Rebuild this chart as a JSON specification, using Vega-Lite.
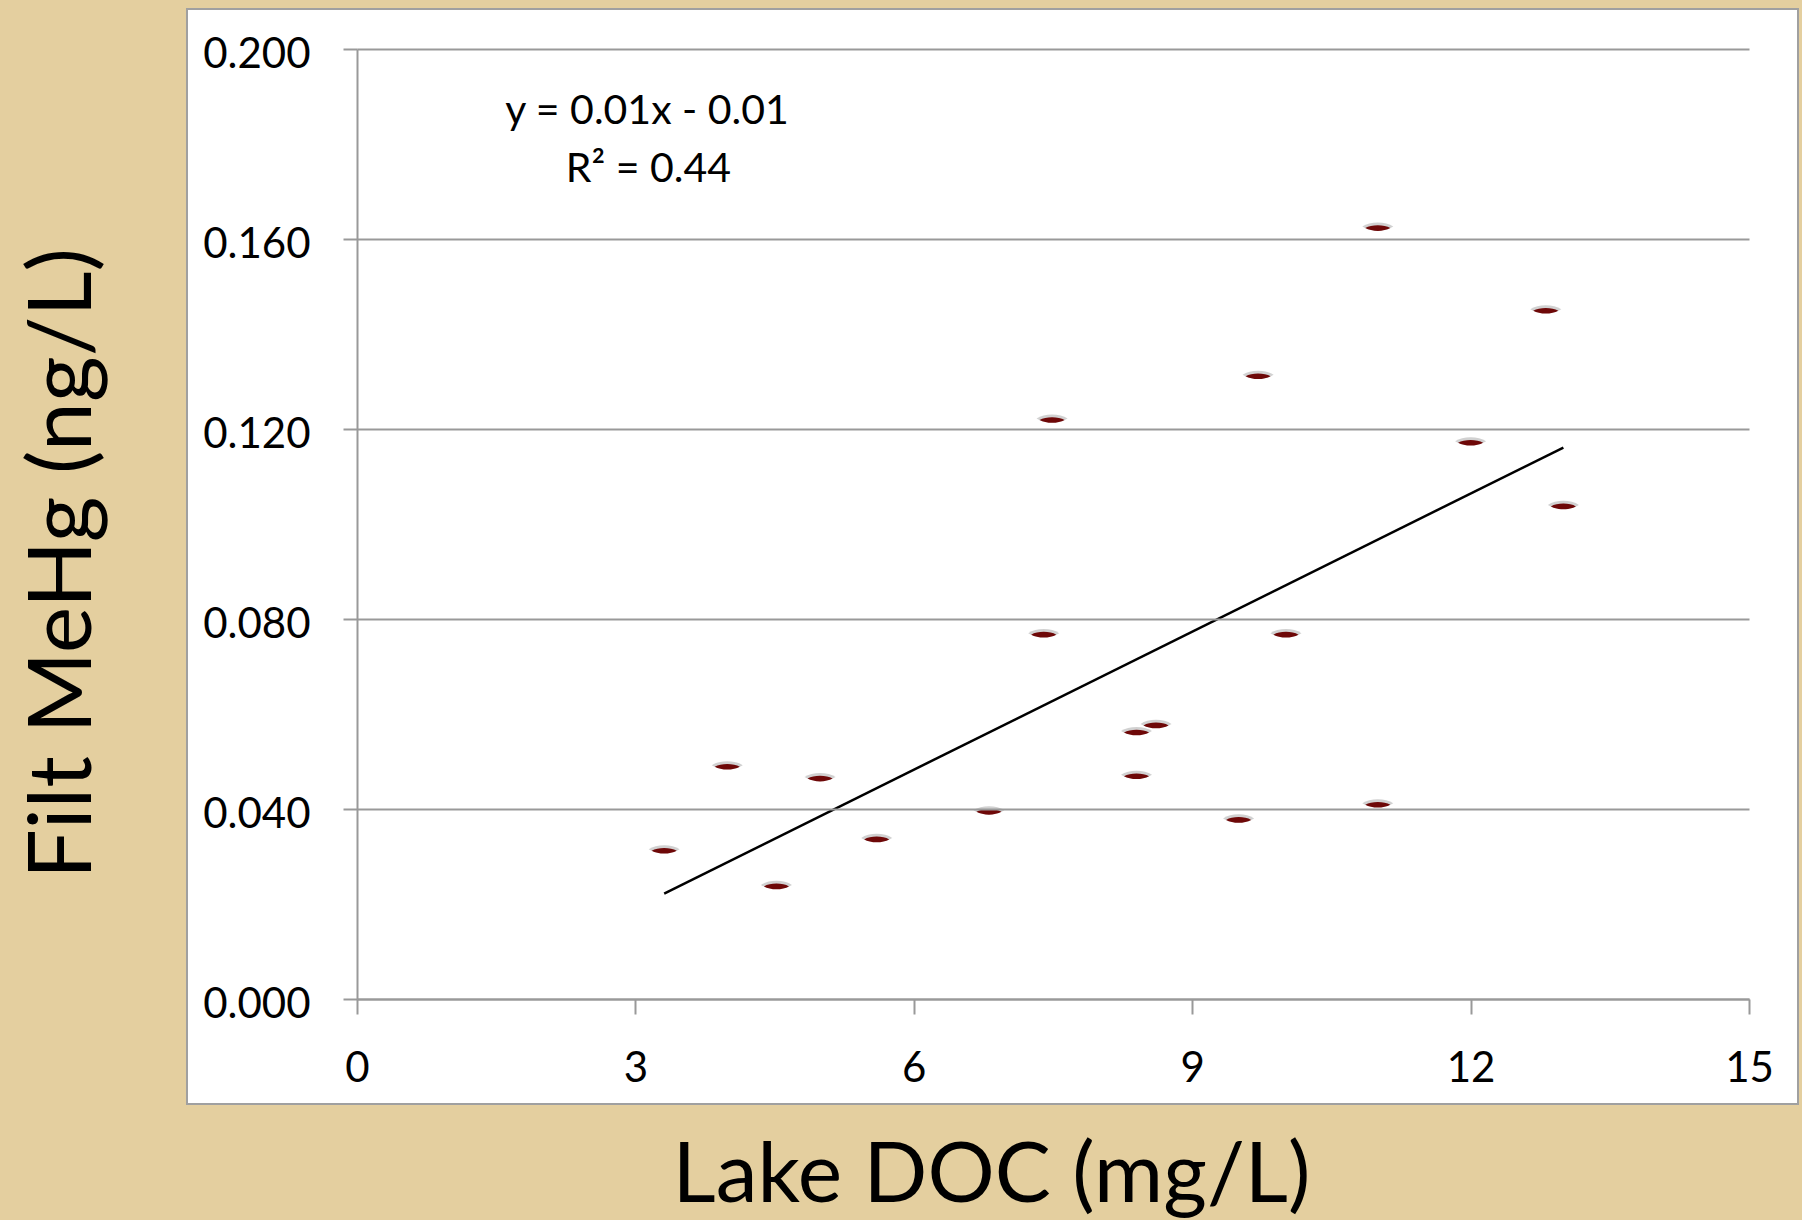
{
  "$schema": "https://vega.github.io/schema/vega-lite/v6.json",
  "width": 1392,
  "height": 950,
  "autosize": {"type": "none"},
  "padding": {"left": 357, "top": 49, "right": 53, "bottom": 221},
  "background": "#e4cf9f",
  "config": {
    "view": {"stroke": null},
    "font": "Lato",
    "axis": {"labelFont": "Lato", "titleFont": "Lato", "labelColor": "#000000", "titleColor": "#000000", "titleFontWeight": "normal"}
  },
  "datasets": {
    "points": [
      {"doc": 3.31, "mehg": 0.0312},
      {"doc": 3.99, "mehg": 0.0489},
      {"doc": 4.52, "mehg": 0.0237},
      {"doc": 4.99, "mehg": 0.0464},
      {"doc": 5.60, "mehg": 0.0336},
      {"doc": 6.81, "mehg": 0.0394},
      {"doc": 7.40, "mehg": 0.0767},
      {"doc": 7.49, "mehg": 0.1219},
      {"doc": 8.40, "mehg": 0.0561},
      {"doc": 8.61, "mehg": 0.0576},
      {"doc": 8.40, "mehg": 0.0469},
      {"doc": 9.50, "mehg": 0.0377},
      {"doc": 9.71, "mehg": 0.1311},
      {"doc": 10.01, "mehg": 0.0767},
      {"doc": 11.0, "mehg": 0.1623},
      {"doc": 11.0, "mehg": 0.0409},
      {"doc": 12.0, "mehg": 0.1171},
      {"doc": 12.81, "mehg": 0.1449},
      {"doc": 13.0, "mehg": 0.1037}
    ],
    "trend": [
      {"doc": 3.31, "mehg": 0.0222},
      {"doc": 13.0, "mehg": 0.1161}
    ]
  },
  "layer": [
    {
      "data": {"values": [{}]},
      "mark": {"type": "rect", "fill": "#ffffff", "stroke": "#a0a0a0", "strokeWidth": 2},
      "encoding": {
        "x": {"datum": -1.832, "type": "quantitative", "scale": {"domain": [0, 15], "nice": false, "zero": false},
          "axis": {
            "zindex": 1,
            "values": [0, 3, 6, 9, 12, 15],
            "format": "d",
            "labelFlush": false,
            "labelOverlap": false,
            "grid": false,
            "domain": true, "domainColor": "#999999", "domainWidth": 2,
            "ticks": true, "tickSize": 15, "tickColor": "#999999", "tickWidth": 2,
            "labelFontSize": 42, "labelPadding": 34,
            "title": "Lake DOC (mg/L)", "titleFontSize": 84,
            "titleX": 634, "titleY": 202, "titleBaseline": "alphabetic", "titleAlign": "center", "titleAnchor": null
          }
        },
        "x2": {"datum": 15.528},
        "y": {"datum": 0.20842, "type": "quantitative", "scale": {"domain": [0, 0.2], "nice": false, "zero": false},
          "axis": {
            "zindex": 1,
            "values": [0, 0.04, 0.08, 0.12, 0.16, 0.2],
            "format": ".3f",
            "labelFlush": false,
            "labelOverlap": false,
            "grid": true, "gridColor": "#999999", "gridWidth": 2,
            "domain": true, "domainColor": "#999999", "domainWidth": 2,
            "ticks": true, "tickSize": 14, "tickColor": "#999999", "tickWidth": 2,
            "labelFontSize": 42, "labelPadding": 33, "labelOffset": 5,
            "title": "Filt MeHg (ng/L)", "titleFontSize": 88,
            "titleX": -267, "titleY": 514, "titleBaseline": "alphabetic", "titleAlign": "center", "titleAngle": -90, "titleAnchor": null
          }
        },
        "y2": {"datum": -0.02211}
      }
    },
    {
      "data": {"name": "trend"},
      "mark": {"type": "line", "color": "#000000", "strokeWidth": 2.5},
      "encoding": {
        "x": {"field": "doc", "type": "quantitative"},
        "y": {"field": "mehg", "type": "quantitative"}
      }
    },
    {
      "data": {"name": "points"},
      "mark": {"type": "point", "filled": true, "shape": "M-1,0C-0.5,-0.35 0.5,-0.35 1,0C0.5,0.35 -0.5,0.35 -1,0Z", "size": 961, "color": "#9a9a9a", "opacity": 0.45, "yOffset": -1.5, "strokeWidth": 0},
      "encoding": {
        "x": {"field": "doc", "type": "quantitative"},
        "y": {"field": "mehg", "type": "quantitative"}
      }
    },
    {
      "data": {"name": "points"},
      "mark": {"type": "point", "filled": true, "shape": "M-1,0C-0.5,-0.3 0.5,-0.3 1,0C0.5,0.3 -0.5,0.3 -1,0Z", "size": 625, "color": "#6e0808", "opacity": 1, "strokeWidth": 0},
      "encoding": {
        "x": {"field": "doc", "type": "quantitative"},
        "y": {"field": "mehg", "type": "quantitative"}
      }
    },
    {
      "data": {"values": [{}]},
      "mark": {"type": "text", "fontSize": 41, "font": "Lato", "color": "#000000", "align": "center", "baseline": "alphabetic"},
      "encoding": {
        "x": {"datum": 3.125, "type": "quantitative"},
        "y": {"datum": 0.1842, "type": "quantitative"},
        "text": {"value": "y = 0.01x - 0.01"}
      }
    },
    {
      "data": {"values": [{}]},
      "mark": {"type": "text", "fontSize": 41, "font": "Lato", "color": "#000000", "align": "center", "baseline": "alphabetic"},
      "encoding": {
        "x": {"datum": 3.14, "type": "quantitative"},
        "y": {"datum": 0.172, "type": "quantitative"},
        "text": {"value": "R² = 0.44"}
      }
    }
  ]
}
